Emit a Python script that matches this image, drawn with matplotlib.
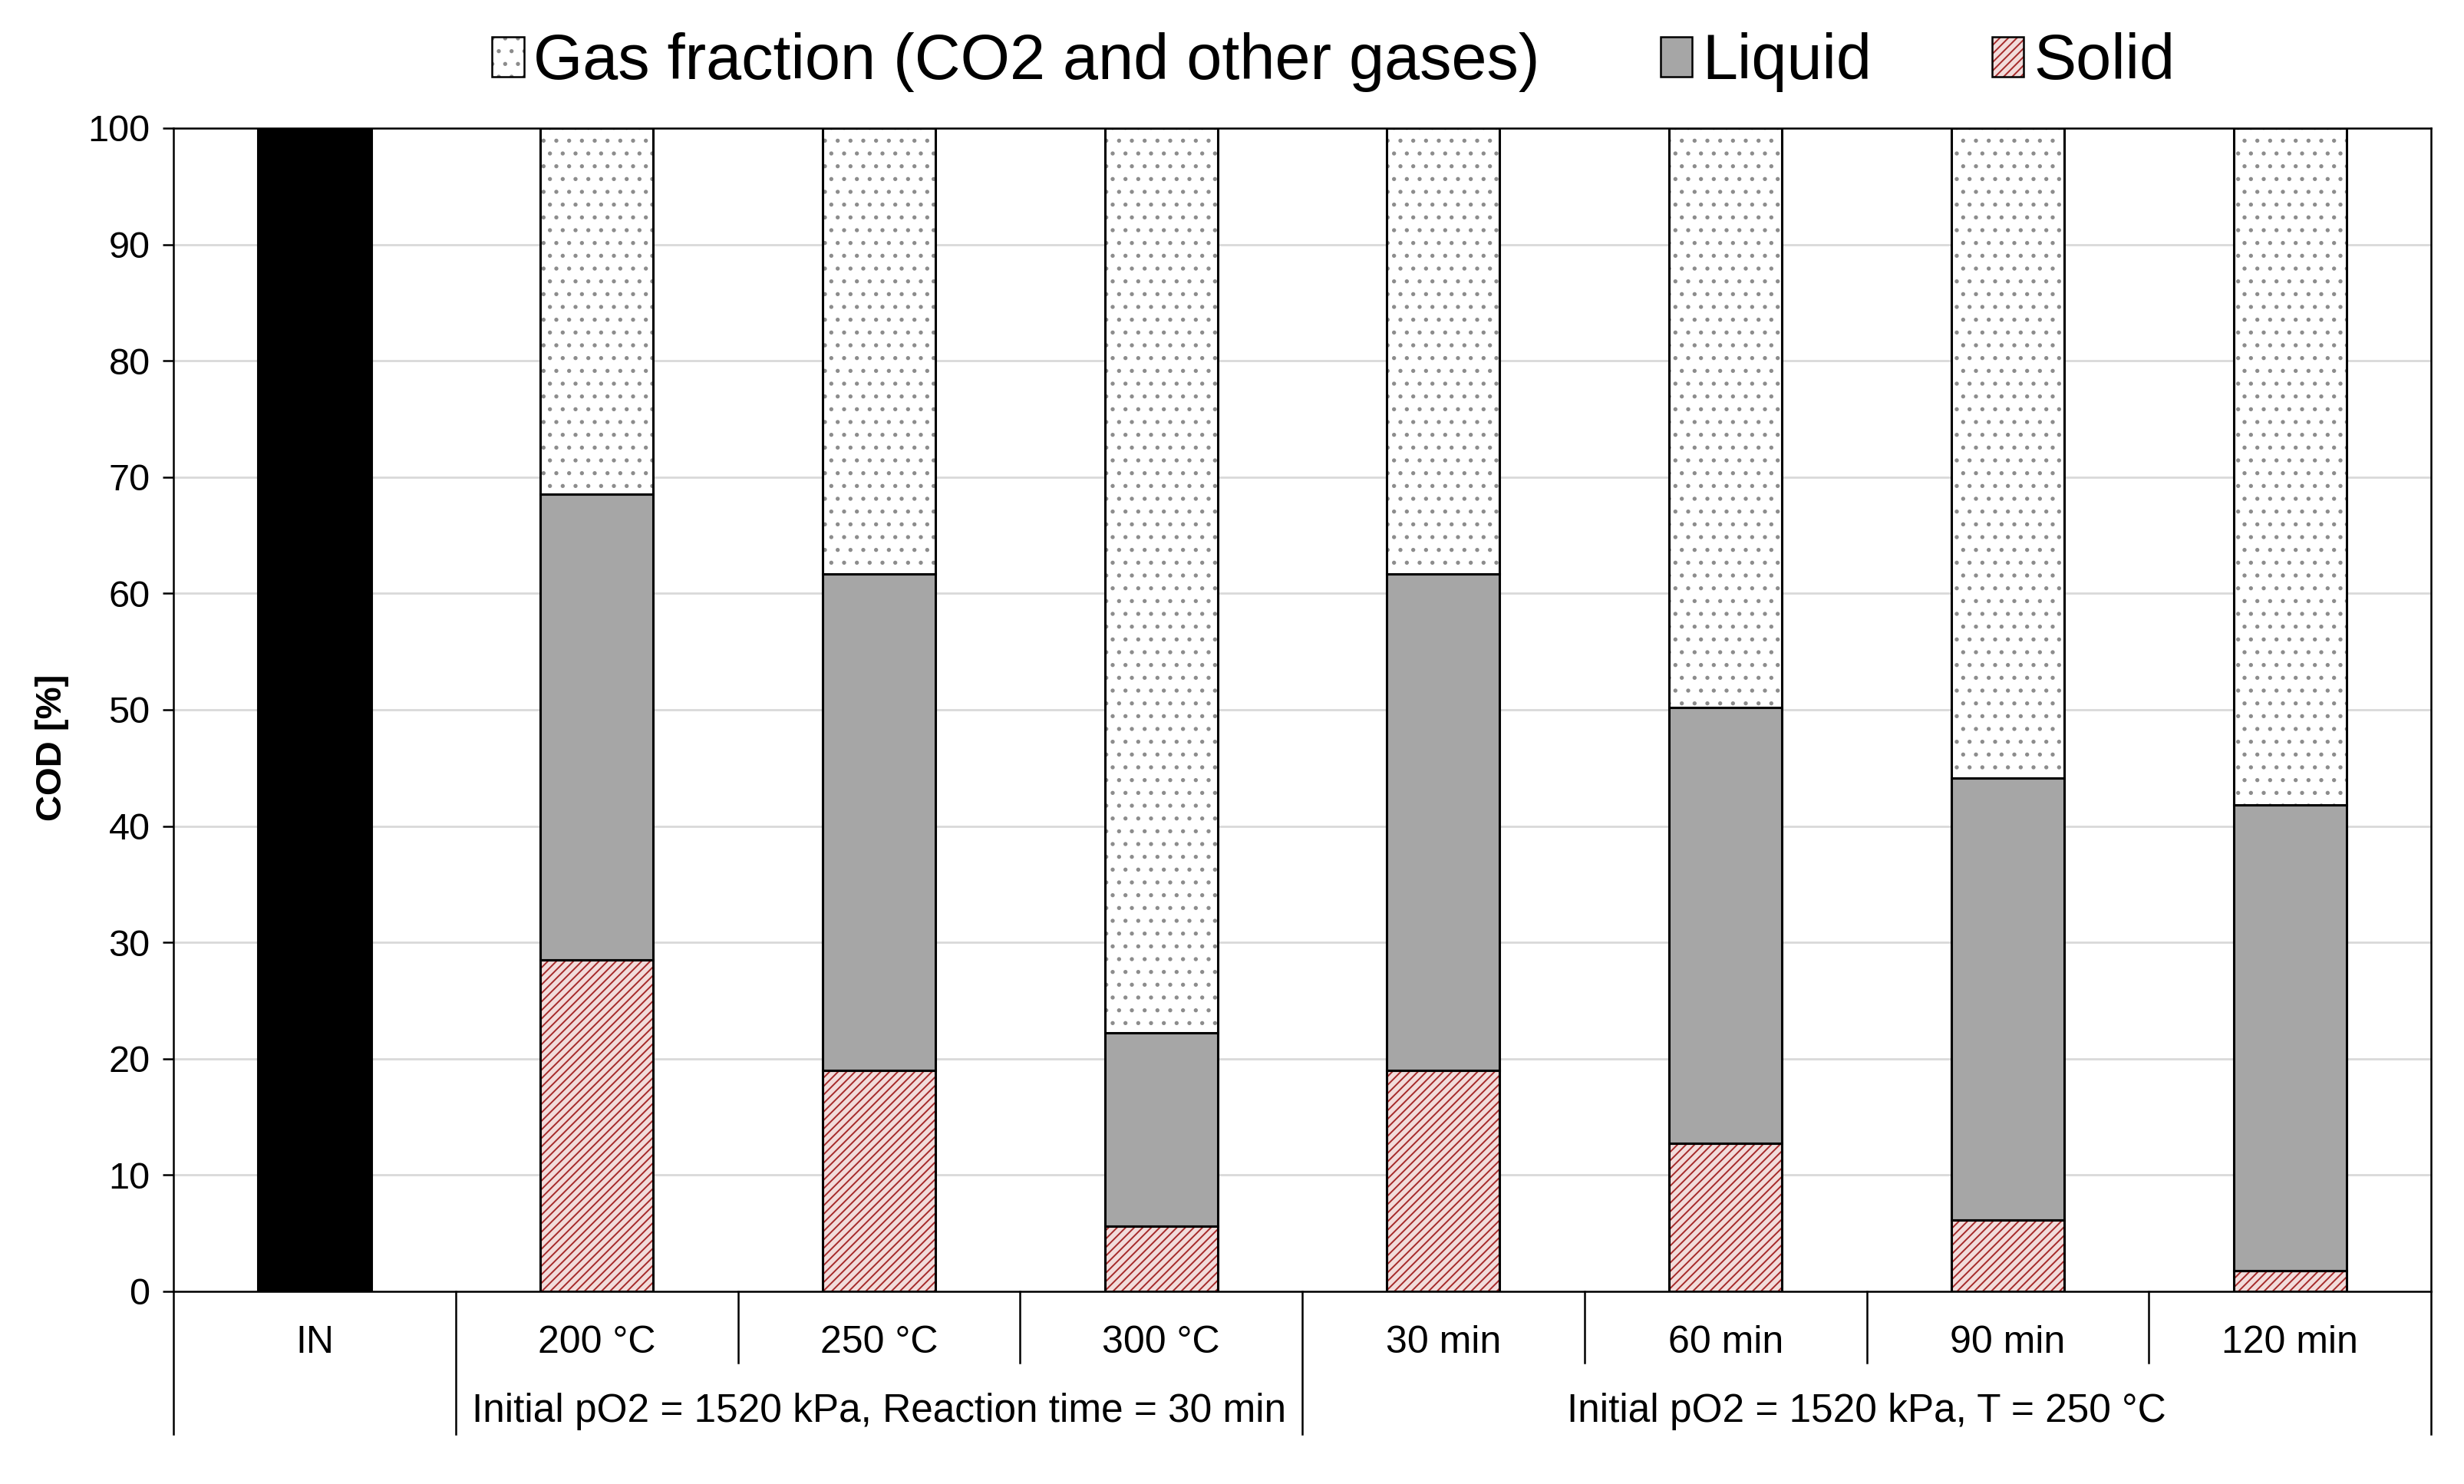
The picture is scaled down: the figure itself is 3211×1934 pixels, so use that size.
import matplotlib
matplotlib.use('Agg')
import matplotlib.pyplot as plt
from matplotlib.patches import Patch

# values (COD %)
categories = ['IN', '200 °C', '250 °C', '300 °C', '30 min', '60 min', '90 min', '120 min']
influent = [100, 0, 0, 0, 0, 0, 0, 0]
solid = [0, 28.5, 19.0, 5.6, 19.0, 12.7, 6.1, 1.8]
liquid = [0, 40.0, 42.7, 16.6, 42.7, 37.5, 38.0, 40.0]
gas = [0, 31.5, 38.3, 77.8, 38.3, 49.8, 55.9, 58.2]
group_labels = ['Initial pO2 = 1520 kPa, Reaction time = 30 min',
                'Initial pO2 = 1520 kPa, T = 250 °C']
group_spans = [(1, 3), (4, 7)]

plt.rcParams['font.family'] = ['Liberation Sans', 'DejaVu Sans']
plt.rcParams['hatch.linewidth'] = 0.7

solid_face = '#f2dcdb'
solid_hatch = '#a52a2a'
liquid_face = '#a6a6a6'
gas_hatch = '#8c8c8c'
edge_lw = 1.1

fig = plt.figure(figsize=(16.06, 9.67), dpi=200)
ax = fig.add_axes([0.0704, 0.1298, 0.9159, 0.7839])

x = list(range(len(categories)))
w = 0.4

bottom_liq = solid
bottom_gas = [s + l for s, l in zip(solid, liquid)]

# influent
ax.bar(x, influent, w, color='black', edgecolor='black', lw=edge_lw, zorder=3)
# solid: hatch layer then outline
ax.bar(x, solid, w, color=solid_face, edgecolor=solid_hatch, hatch='//////', lw=0, zorder=3)
ax.bar(x, solid, w, fill=False, edgecolor='black', lw=edge_lw, zorder=4)
# liquid
ax.bar(x, liquid, w, bottom=bottom_liq, color=liquid_face, edgecolor='black', lw=edge_lw, zorder=3)
# gas
ax.bar(x, gas, w, bottom=bottom_gas, color='white', edgecolor=gas_hatch, hatch='..', lw=0, zorder=3)
ax.bar(x, gas, w, bottom=bottom_gas, fill=False, edgecolor='black', lw=edge_lw, zorder=4)

ax.set_xlim(-0.5, len(categories) - 0.5)
ax.set_ylim(0, 100)
ax.set_yticks(range(0, 101, 10))
ax.set_xticks([])
ax.tick_params(axis='y', direction='out', length=5, width=0.9, labelsize=17.5, pad=6)
ax.yaxis.grid(True, color='#d9d9d9', lw=1.0, zorder=0)
ax.set_axisbelow(True)
for sp in ax.spines.values():
    sp.set_linewidth(0.9)
    sp.set_color('black')

# category table under the axis
trans = ax.get_xaxis_transform()
short_y = -0.0613
long_y = -0.1227
long_lines = [-0.5, 0.5, 3.5, len(categories) - 0.5]
for b in [i + 0.5 for i in range(len(categories) - 1)]:
    yend = long_y if b in long_lines else short_y
    ax.plot([b, b], [0, yend], color='black', lw=0.9, transform=trans, clip_on=False)
for b in [long_lines[0], long_lines[-1]]:
    ax.plot([b, b], [0, long_y], color='black', lw=0.9, transform=trans, clip_on=False)

for xi, lab in zip(x, categories):
    ax.text(xi, -0.0528, lab, transform=trans, ha='center', va='baseline', fontsize=18)
for (a, b), lab in zip(group_spans, group_labels):
    ax.text((a + b) / 2, -0.112, lab, transform=trans, ha='center', va='baseline', fontsize=18.5)

fig.text(0.0212, 0.4964, 'COD [%]', rotation=90, ha='center', va='center',
         fontsize=17, fontweight='bold')

handles = [
    (Patch(facecolor='white', edgecolor=gas_hatch, hatch='..', lw=0),
     Patch(fill=False, edgecolor='black', lw=0.9)),
    Patch(facecolor=liquid_face, edgecolor='black', lw=0.9),
    (Patch(facecolor=solid_face, edgecolor=solid_hatch, hatch='//////', lw=0),
     Patch(fill=False, edgecolor='black', lw=0.9)),
]
fig.legend(handles, ['Gas fraction (CO2 and other gases)', 'Liquid', 'Solid'],
           loc='center', bbox_to_anchor=(0.541, 0.958), ncol=3, frameon=False,
           fontsize=29.8, handlelength=0.5, handleheight=0.6, handletextpad=0.15,
           columnspacing=1.9)

fig.savefig('out.png', dpi=200)
